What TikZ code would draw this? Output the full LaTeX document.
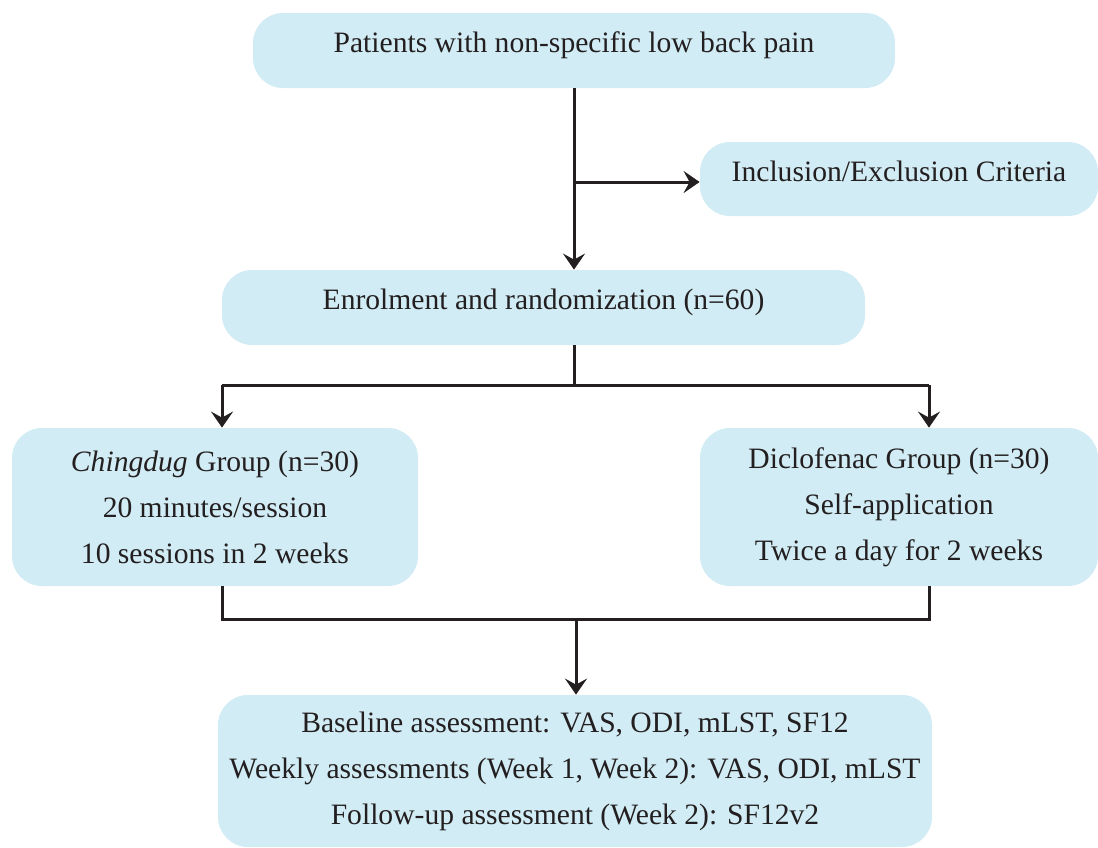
\documentclass[tikz,border=0pt]{standalone}
\usepackage{fontspec}
\setmainfont{Liberation Serif}
\usetikzlibrary{arrows.meta,calc}
\definecolor{boxblue}{RGB}{209,236,244}
\definecolor{ink}{RGB}{35,31,32}
\tikzset{
	flowbox/.style={fill=boxblue, rounded corners=15pt, align=center, text=ink,
		font=\fontsize{14.8}{23}\selectfont, inner sep=0pt},
	onebox/.style={flowbox, text height=10pt, text depth=8pt},
	flowline/.style={draw=ink, line width=1.5pt},
	flowarrow/.style={flowline, -{Stealth[length=8pt,width=11pt,inset=3pt]}}
}
\begin{document}
\begin{tikzpicture}[x=0.5pt,y=-0.5pt]
	\useasboundingbox (0,0) rectangle (1098,847);
	% boxes
	\node[onebox, minimum width=321pt, minimum height=37.5pt] (pat) at (574,50.5) {Patients with non-specific low back pain};
	\node[onebox, minimum width=199pt, minimum height=37pt] (crit) at (899,179) {Inclusion/Exclusion Criteria};
	\node[onebox, minimum width=321.5pt, minimum height=37.5pt] (enrol) at (543.5,307.5) {Enrolment and randomization (n=60)};
	\node[flowbox, minimum width=203pt, minimum height=79pt] (ching) at (215,507) {\textit{Chingdug} Group (n=30)\\20 minutes/session\\10 sessions in 2 weeks};
	\node[flowbox, minimum width=199pt, minimum height=79pt] (diclo) at (899,507) {Diclofenac Group (n=30)\\Self-application\\Twice a day for 2 weeks};
	\node[flowbox, minimum width=357pt, minimum height=76pt] (assess) at (575,771) {Baseline assessment: VAS, ODI, mLST, SF12\\Weekly assessments (Week 1, Week 2): VAS, ODI, mLST\\Follow-up assessment (Week 2): SF12v2};
	%
	\coordinate (fork) at (574,182);
	\coordinate (sl) at (222,385);
	\coordinate (sr) at (929,385);
	\coordinate (ml) at (222,619);
	\coordinate (mr) at (929,619);
	\coordinate (mid) at (576,619);
	% connectors
	\draw[flowarrow] (pat.south) -- (pat.south |- enrol.north);
	\draw[flowarrow] (fork) -- (crit.west |- fork);
	\draw[flowline] (pat.south |- enrol.south) -- (pat.south |- sl);
	\draw[flowline] (sl) -- (sr);
	\draw[flowarrow] (sl) -- (sl |- ching.north);
	\draw[flowarrow] (sr) -- (sr |- diclo.north);
	\draw[flowline] (sl |- ching.south) -- (ml) -- (mr) -- (sr |- diclo.south);
	\draw[flowarrow] (mid) -- (mid |- assess.north);
\end{tikzpicture}
\end{document}
